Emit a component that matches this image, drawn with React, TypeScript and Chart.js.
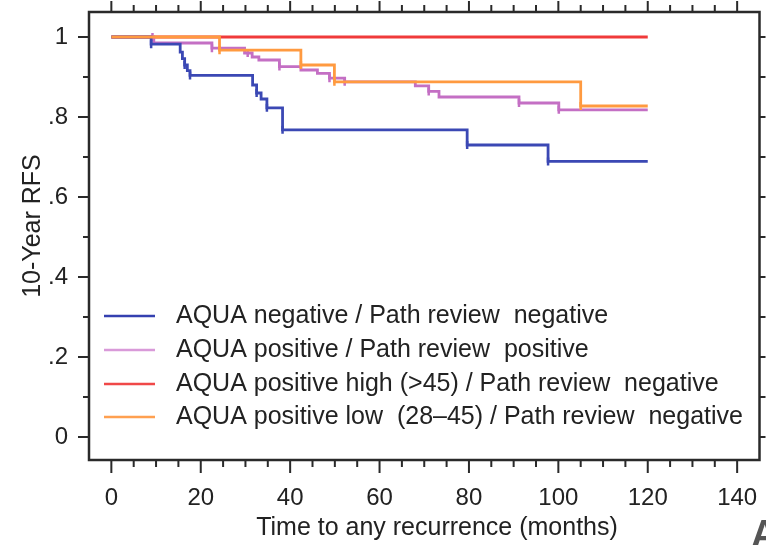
import React, { useEffect, useRef } from 'react';
import { Chart, registerables } from 'chart.js';

Chart.register(...registerables);

// Kaplan–Meier curves: event times (months) and survival after each step
const negNegMonths = [0, 8.9, 15.4, 15.9, 16.4, 17.0, 17.6, 31.6, 32.5, 33.5, 34.8, 38.3, 79.6, 97.7, 120];
const negNegSurvival = [1, 0.982, 0.962, 0.946, 0.93, 0.916, 0.904, 0.88, 0.86, 0.845, 0.823, 0.768, 0.73, 0.689, 0.689];

const posPosMonths = [0, 9.5, 22.5, 29.8, 31.5, 33.0, 37.6, 42.4, 46.1, 48.8, 52.2, 68.0, 71.0, 73.3, 91.2, 100.1, 120];
const posPosSurvival = [1, 0.985, 0.972, 0.96, 0.95, 0.9425, 0.926, 0.9175, 0.909, 0.897, 0.888, 0.878, 0.864, 0.85, 0.835, 0.818, 0.818];

const posHighMonths = [0, 120];
const posHighSurvival = [1, 1];

const posLowMonths = [0, 24.2, 42.4, 49.9, 105.0, 120];
const posLowSurvival = [1, 0.967, 0.93, 0.888, 0.8275, 0.8275];

// Censoring times marked on the curves
const negNegCensored = [8.9, 16.4, 17.6, 32.5, 34.8, 38.3, 79.6, 97.7];
const posPosCensored = [9.2, 22.5, 30.5, 37.6, 48.8, 52.2, 71.0, 91.2, 100.1];
const posLowCensored = [24.2, 42.4, 49.9, 105.0];

const seriesLabels = [
  'AQUA negative / Path review  negative',
  'AQUA positive / Path review  positive',
  'AQUA positive high (>45) / Path review  negative',
  'AQUA positive low  (28–45) / Path review  negative',
];
const lineColors = ['#3b48b4', '#c46fc4', '#f03a3a', '#ff9a40'];
const legendColors = ['#3440b0', '#d99ad9', '#f04848', '#ffa050'];

const xMajorTicks = [0, 20, 40, 60, 80, 100, 120, 140];
const xMinorTicks = [5, 10, 15, 25, 30, 35, 45, 50, 55, 65, 70, 75, 85, 90, 95, 105, 110, 115, 125, 130, 135];
const yMajorTicks = [0, 0.2, 0.4, 0.6, 0.8, 1];
const yTickLabels = ['0', '.2', '.4', '.6', '.8', '1'];
const yMinorTicks = [0.1, 0.3, 0.5, 0.7, 0.9];

const xTitle = 'Time to any recurrence (months)';
const yTitle = '10-Year RFS';
const panelLetter = 'A';

const FONT = '"Liberation Sans", Arial, sans-serif';
const INK = '#222222';

function survivalAt(months: number[], surv: number[], t: number) {
  let s = surv[0];
  for (let i = 0; i < months.length; i++) if (t >= months[i]) s = surv[i];
  return s;
}

function toPoints(months: number[], surv: number[]) {
  return months.map((m, i) => ({ x: m, y: surv[i] }));
}

function censorPoints(times: number[], months: number[], surv: number[]) {
  return times.map((t) => ({ x: t, y: survivalAt(months, surv, t) }));
}

const frameAndLegend = {
  id: 'frameAndLegend',
  afterDraw(chart: any) {
    const { ctx, chartArea } = chart;
    const { left, right, top, bottom } = chartArea;
    const xs = chart.scales.x;
    const ys = chart.scales.y;
    ctx.save();

    // box
    ctx.strokeStyle = '#2a2a2a';
    ctx.lineWidth = 2.5;
    ctx.strokeRect(left, top, right - left, bottom - top);

    // ticks on all four sides
    ctx.lineWidth = 2;
    ctx.beginPath();
    const xTick = (v: number, lenBottom: number, lenTop: number) => {
      const px = xs.getPixelForValue(v);
      ctx.moveTo(px, bottom);
      ctx.lineTo(px, bottom + lenBottom);
      ctx.moveTo(px, top);
      ctx.lineTo(px, top - lenTop);
    };
    xMajorTicks.forEach((v) => xTick(v, 13, 11));
    xMinorTicks.forEach((v) => xTick(v, 7, 7));
    const yTick = (v: number, lenLeft: number, lenRight: number) => {
      const py = ys.getPixelForValue(v);
      ctx.moveTo(left, py);
      ctx.lineTo(left - lenLeft, py);
      ctx.moveTo(right, py);
      ctx.lineTo(right + lenRight, py);
    };
    yMajorTicks.forEach((v) => yTick(v, 11, 6));
    yMinorTicks.forEach((v) => yTick(v, 6, 6));
    ctx.stroke();

    // axis titles
    ctx.fillStyle = INK;
    ctx.font = `25px ${FONT}`;
    ctx.textAlign = 'center';
    ctx.textBaseline = 'middle';
    ctx.fillText(xTitle, 437, 528);
    ctx.save();
    ctx.translate(33, 226);
    ctx.rotate(-Math.PI / 2);
    ctx.fillText(yTitle, 0, 0);
    ctx.restore();

    // legend inside the plot
    const rows = [316, 350, 384, 417];
    ctx.textAlign = 'left';
    seriesLabels.forEach((label, i) => {
      ctx.strokeStyle = legendColors[i];
      ctx.lineWidth = 2.5;
      ctx.beginPath();
      ctx.moveTo(104, rows[i]);
      ctx.lineTo(155, rows[i]);
      ctx.stroke();
      ctx.fillStyle = INK;
      ctx.fillText(label, 176, rows[i]);
    });

    // panel letter
    ctx.fillStyle = '#555555';
    ctx.font = `bold 38px ${FONT}`;
    ctx.textBaseline = 'alphabetic';
    ctx.fillText(panelLetter, 751, 547);
    ctx.restore();
  },
};

export default function App() {
  const ref = useRef<HTMLCanvasElement>(null);

  useEffect(() => {
    const canvas = ref.current;
    if (!canvas) return;
    const curve = (i: number, months: number[], surv: number[], order: number) => ({
      type: 'line' as const,
      label: seriesLabels[i],
      data: toPoints(months, surv),
      stepped: 'before' as const,
      borderColor: lineColors[i],
      borderWidth: 2.8,
      pointRadius: 0,
      fill: false,
      order,
    });
    const censor = (i: number, times: number[], months: number[], surv: number[], order: number) => ({
      type: 'scatter' as const,
      label: seriesLabels[i] + ' censored',
      data: censorPoints(times, months, surv),
      pointStyle: 'line',
      rotation: 90,
      pointRadius: 4,
      borderColor: lineColors[i],
      backgroundColor: lineColors[i],
      borderWidth: 2.5,
      showLine: false,
      order,
    });

    const chart = new Chart(canvas, {
      type: 'line',
      data: {
        datasets: [
          curve(0, negNegMonths, negNegSurvival, 3),
          censor(0, negNegCensored, negNegMonths, negNegSurvival, 2),
          curve(3, posLowMonths, posLowSurvival, 1),
          censor(3, posLowCensored, posLowMonths, posLowSurvival, 0),
          curve(1, posPosMonths, posPosSurvival, 5),
          censor(1, posPosCensored, posPosMonths, posPosSurvival, 4),
          curve(2, posHighMonths, posHighSurvival, 7),
        ] as any,
      },
      options: {
        animation: false,
        responsive: false,
        devicePixelRatio: 1,
        layout: { padding: { top: 12, right: 4, left: 0, bottom: 0 } },
        plugins: {
          legend: { display: false },
          tooltip: { enabled: false },
        },
        scales: {
          x: {
            type: 'linear',
            min: -5,
            max: 145,
            grid: { display: false },
            border: { display: false },
            afterBuildTicks: (s: any) => {
              s.ticks = xMajorTicks.map((v) => ({ value: v }));
            },
            afterFit: (s: any) => {
              s.height = 85;
              s.paddingLeft = 0;
              s.paddingRight = 0;
            },
            ticks: {
              padding: 16,
              maxRotation: 0,
              autoSkip: false,
              color: INK,
              font: { family: FONT, size: 24 },
              callback: (v: any) => String(v),
            },
          },
          y: {
            type: 'linear',
            min: -0.0575,
            max: 1.0625,
            grid: { display: false },
            border: { display: false },
            afterBuildTicks: (s: any) => {
              s.ticks = yMajorTicks.map((v) => ({ value: v }));
            },
            afterFit: (s: any) => {
              s.width = 89;
              s.paddingTop = 0;
              s.paddingBottom = 0;
            },
            ticks: {
              padding: 13,
              autoSkip: false,
              color: INK,
              font: { family: FONT, size: 24 },
              callback: (v: any) => {
                const i = yMajorTicks.indexOf(v);
                return i >= 0 ? yTickLabels[i] : '';
              },
            },
          },
        },
      } as any,
      plugins: [frameAndLegend],
    });
    return () => chart.destroy();
  }, []);

  return (
    <div style={{ position: 'absolute', left: 0, top: 0, width: 766, height: 545, background: '#ffffff' }}>
      <canvas ref={ref} width={766} height={545} style={{ display: 'block' }} />
    </div>
  );
}
